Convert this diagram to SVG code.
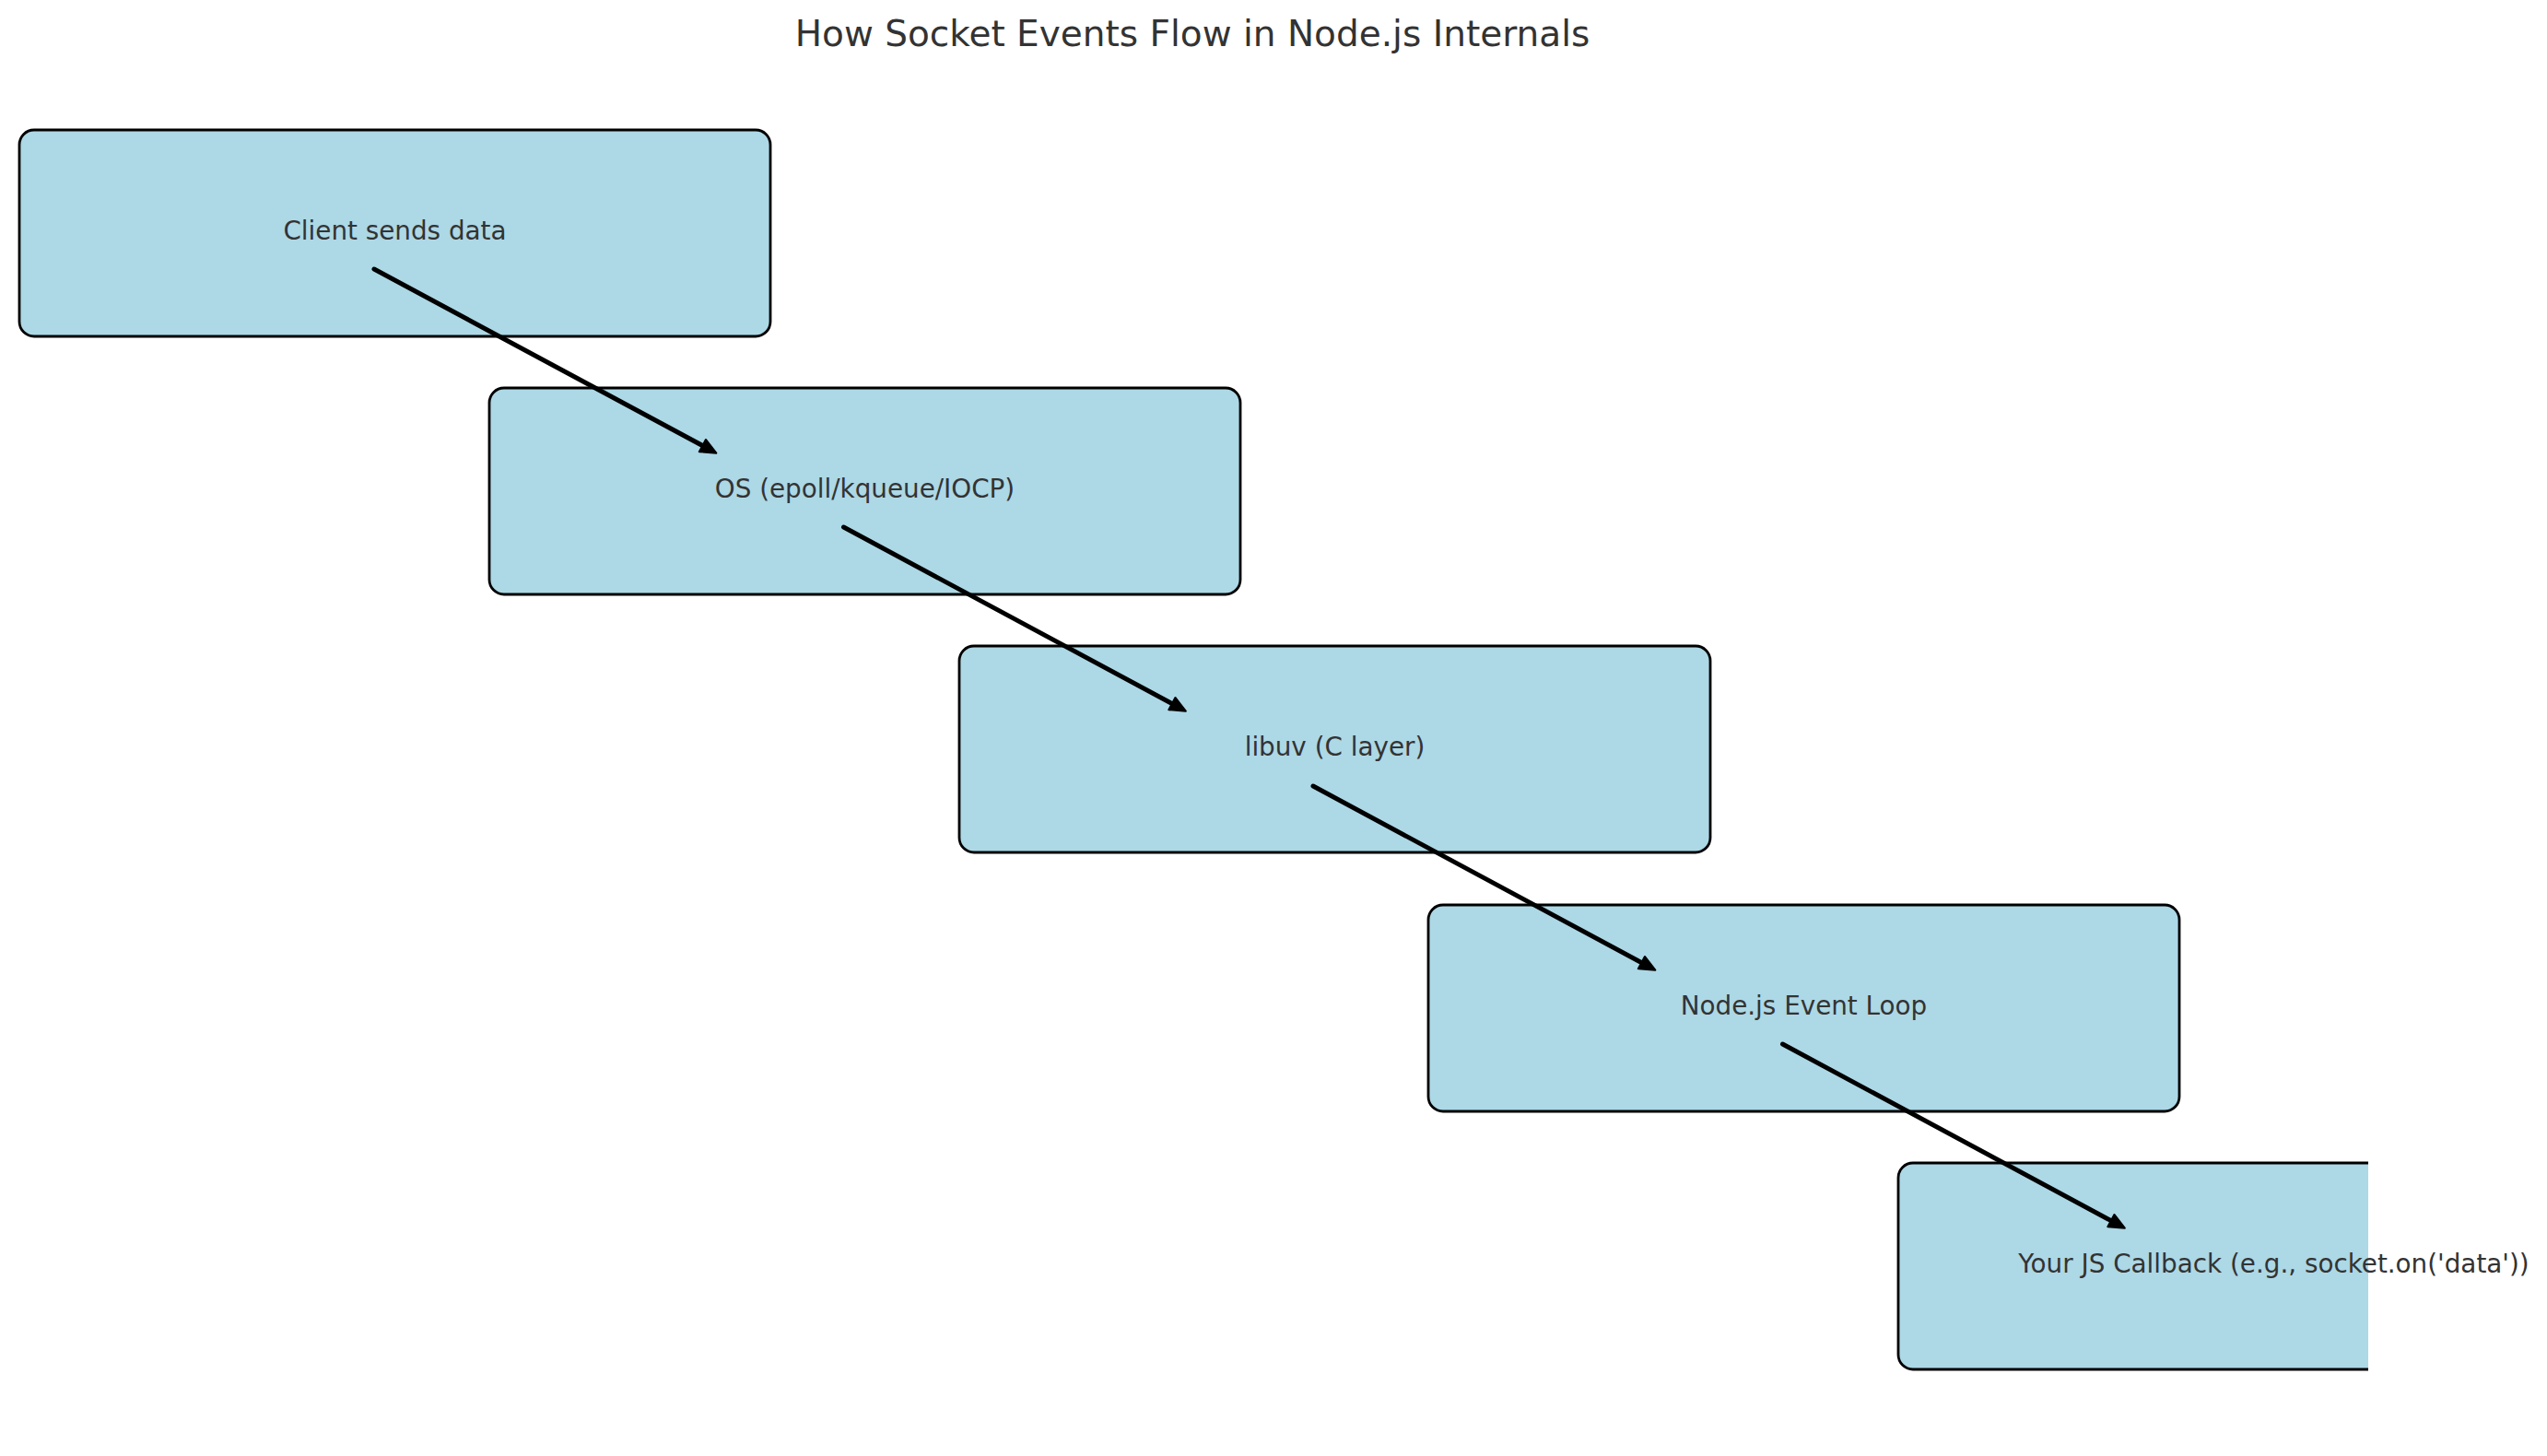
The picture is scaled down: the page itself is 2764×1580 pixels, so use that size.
<svg xmlns="http://www.w3.org/2000/svg" width="2764" height="1580" viewBox="0 0 2764 1580">
<style>
.box{fill:#ADD8E6;stroke:#000;stroke-width:2.8}
.lbl{font-family:"DejaVu Sans",sans-serif;font-size:27.8px;fill:#333333;text-anchor:middle}
.title{font-family:"DejaVu Sans",sans-serif;font-size:39px;fill:#333333;text-anchor:middle}
.edge{stroke:#000;stroke-width:5;stroke-linecap:round;fill:none;marker-end:url(#ah)}
</style>
<defs>
<marker id="ah" markerUnits="userSpaceOnUse" viewBox="-20 -10 24 20" refX="-14" refY="0" markerWidth="24" markerHeight="20" orient="auto">
<path d="M0,0 L-17,-7.5 L-17,7.5 Z" fill="#000" stroke="#000" stroke-width="2" stroke-linejoin="round"/>
</marker>
<clipPath id="axclip"><rect x="0" y="0" width="2570" height="1580"/></clipPath>
</defs>
<rect width="2764" height="1580" fill="#fff"/>
<text class="title" x="1294" y="50">How Socket Events Flow in Node.js Internals</text>
<g id="n1"><rect class="box" x="21" y="141" width="815" height="224" rx="16"/><text class="lbl" x="428.5" y="260">Client sends data</text></g>
<g id="n2"><rect class="box" x="531" y="421" width="815" height="224" rx="16"/><text class="lbl" x="938.5" y="540">OS (epoll/kqueue/IOCP)</text></g>
<g id="n3"><rect class="box" x="1041" y="701" width="815" height="224" rx="16"/><text class="lbl" x="1448.5" y="820">libuv (C layer)</text></g>
<g id="n4"><rect class="box" x="1550" y="982" width="815" height="224" rx="16"/><text class="lbl" x="1957.5" y="1101">Node.js Event Loop</text></g>
<g id="n5"><rect class="box" x="2060" y="1262" width="815" height="224" rx="16" clip-path="url(#axclip)"/><text class="lbl" x="2467.5" y="1381">Your JS Callback (e.g., socket.on('data'))</text></g>
<g id="edges">
<line class="edge" x1="406" y1="292" x2="765" y2="485"/>
<line class="edge" x1="915.5" y1="572" x2="1274.5" y2="765"/>
<line class="edge" x1="1425" y1="853" x2="1784" y2="1046"/>
<line class="edge" x1="1934.5" y1="1133" x2="2293.5" y2="1326"/>
</g>
</svg>
